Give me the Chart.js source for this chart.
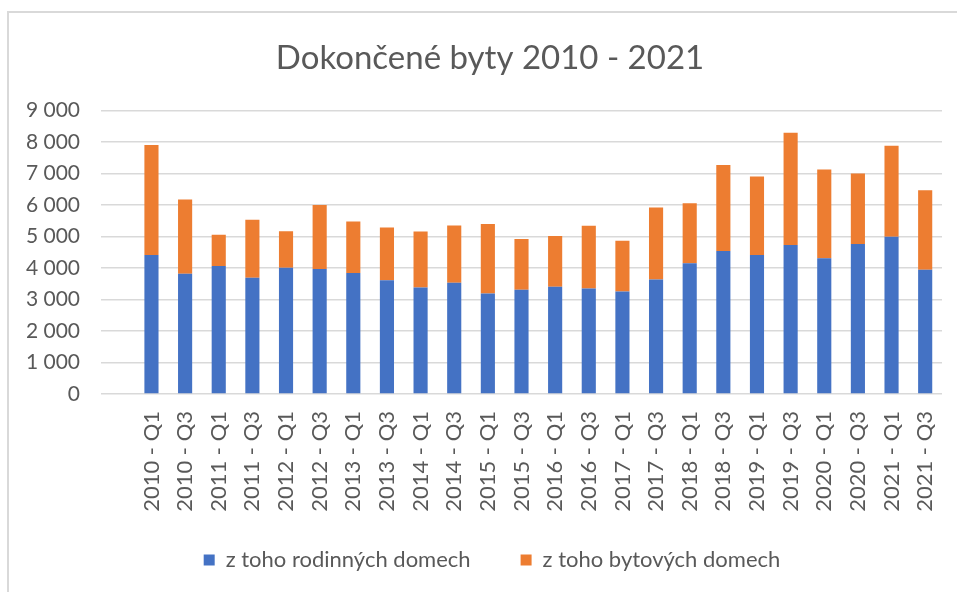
<!DOCTYPE html>
<html>
<head>
<meta charset="utf-8">
<title>Dokončené byty 2010 - 2021</title>
<script src="https://cdn.jsdelivr.net/npm/chart.js@4"></script>
<style>
  html, body { margin: 0; padding: 0; background: #fff; }
  #wrap { position: relative; width: 957px; height: 592px; overflow: hidden; }
  #frame {
    position: absolute; left: 7px; top: 11px; right: -5px; bottom: -5px;
    border-left: 2px solid #d9d9d9; border-top: 2px solid #d9d9d9;
  }
  #chart { position: absolute; left: 0; top: 0; }
</style>
</head>
<body>
<div id="wrap">
  <div id="frame"></div>
  <canvas id="chart" width="957" height="592"></canvas>
</div>
<script>
// Données (nombre de logements achevés)
const categories = [
    '2010 - Q1', '2010 - Q3', '2011 - Q1', '2011 - Q3', '2012 - Q1', '2012 - Q3',
    '2013 - Q1', '2013 - Q3', '2014 - Q1', '2014 - Q3', '2015 - Q1', '2015 - Q3',
    '2016 - Q1', '2016 - Q3', '2017 - Q1', '2017 - Q3', '2018 - Q1', '2018 - Q3',
    '2019 - Q1', '2019 - Q3', '2020 - Q1', '2020 - Q3', '2021 - Q1', '2021 - Q3'
];
const rodinneDomy = [
    4415, 3820, 4065, 3690, 4010, 3970, 3840, 3610, 3385, 3530, 3190, 3310,
    3405, 3350, 3255, 3640, 4150, 4545, 4415, 4735, 4310, 4765, 4990, 3945
];
const bytoveDomy = [
    3490, 2360, 990, 1840, 1160, 2030, 1640, 1675, 1775, 1820, 2205, 1615,
    1615, 1990, 1615, 2285, 1905, 2730, 2490, 3565, 2820, 2235, 2895, 2525
];
const yTicks = [0, 1000, 2000, 3000, 4000, 5000, 6000, 7000, 8000, 9000];

const textColor = '#595959';
const fontFamily = 'Lato, "Open Sans", sans-serif';

// la première catégorie du graphique d'origine est vide
const labels = [''].concat(categories);

// Ajustements après la mise en page :
// - les libellés pivotés dépassent la hauteur réservée à l'axe, on élargit la zone de découpe
// - titre et légende sont centrés un peu plus à droite dans l'original
const layoutTweaks = {
    id: 'layoutTweaks',
    afterLayout(chart) {
        chart.scales.x.bottom += 30;
        chart.titleBlock.left += 38;
        chart.legend.left += 21;
        chart.legend.right += 21;
    }
};

new Chart(document.getElementById('chart').getContext('2d'), {
    type: 'bar',
    data: {
        labels: labels,
        datasets: [
            {
                label: 'z toho rodinných domech',
                data: [null].concat(rodinneDomy),
                backgroundColor: '#4472C4'
            },
            {
                label: 'z toho bytových domech',
                data: [null].concat(bytoveDomy),
                backgroundColor: '#ED7D31'
            }
        ]
    },
    plugins: [layoutTweaks],
    options: {
        responsive: false,
        animation: false,
        layout: { padding: { left: 0, right: 15, top: 0, bottom: 11 } },
        datasets: { bar: { categoryPercentage: 1, barPercentage: 0.42 } },
        plugins: {
            title: {
                display: true,
                text: 'Dokončené byty 2010 - 2021',
                color: textColor,
                font: { family: fontFamily, size: 33, weight: 'normal' },
                padding: { top: 39, bottom: 32 }
            },
            legend: {
                position: 'bottom',
                labels: {
                    color: textColor,
                    font: { family: fontFamily, size: 22 },
                    boxWidth: 11,
                    boxHeight: 11,
                    padding: 50
                }
            },
            tooltip: { enabled: false }
        },
        scales: {
            x: {
                stacked: true,
                grid: { display: false, drawTicks: false },
                border: { display: false },
                ticks: {
                    color: textColor,
                    font: { family: fontFamily, size: 22 },
                    autoSkip: false,
                    minRotation: 90,
                    maxRotation: 90,
                    padding: 17
                },
                afterFit: s => {
                    s.height = 105;
                    s.paddingLeft = 0;
                    s.paddingRight = 0;
                }
            },
            y: {
                stacked: true,
                min: 0,
                max: 9000,
                afterBuildTicks: s => { s.ticks = yTicks.map(v => ({ value: v })); },
                grid: { color: '#d9d9d9', lineWidth: 1.5, drawTicks: false },
                border: { display: false },
                ticks: {
                    color: textColor,
                    font: { family: fontFamily, size: 21 },
                    padding: 21,
                    callback: v => String(v).replace(/\B(?=(\d{3})+(?!\d))/g, ' ')
                },
                afterFit: s => { s.width = 101; }
            }
        }
    }
});
</script>
</body>
</html>
